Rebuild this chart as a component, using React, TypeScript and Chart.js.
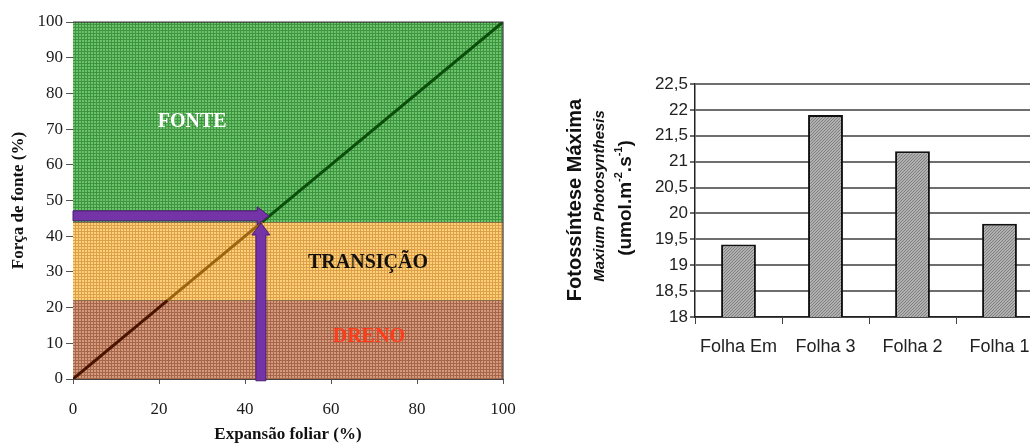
import React, { useEffect, useRef } from "react";
import { Chart, registerables } from "chart.js";

Chart.register(...registerables);

// ---------- Left chart data ----------
const bandNames = ["FONTE", "TRANSIÇÃO", "DRENO"];
const bandTops = [100, 44, 22];
const diagX = [0, 22, 44, 100];
const diagY = [0, 22, 44, 100];
const arrowHX = [0, 45.6];
const arrowHY = 45.7;
const arrowVX = 43.7;
const arrowVY = [-0.5, 43.7];
const xTitleLeft = "Expansão foliar (%)";
const yTitleLeft = "Força de fonte (%)";

// label placement (data coords)
const bandLabelX = [27.7, 68.6, 68.8];
const bandLabelY = [72.0, 32.5, 11.8];

// ---------- Right chart data ----------
const categories = ["Folha Em", "Folha 3", "Folha 2", "Folha 1"];
const photoValues = [19.4, 21.9, 21.2, 19.8];
const yTitleMain = "Fotossíntese Máxima";
const yTitleSub = "Maxium Photosynthesis";

function makeGridPattern(base: string, line: string, size = 3) {
  const c = document.createElement("canvas");
  c.width = size;
  c.height = size;
  const g = c.getContext("2d")!;
  g.fillStyle = base;
  g.fillRect(0, 0, size, size);
  g.fillStyle = line;
  g.fillRect(0, 0, size, 1);
  g.fillRect(0, 0, 1, size);
  return g.createPattern(c, "repeat")!;
}

function makeDotPattern(a: string, b: string) {
  const c = document.createElement("canvas");
  c.width = 3;
  c.height = 3;
  const g = c.getContext("2d")!;
  g.fillStyle = a;
  g.fillRect(0, 0, 3, 3);
  g.fillStyle = b;
  g.fillRect(0, 0, 1, 1);
  g.fillRect(1, 2, 1, 1);
  g.fillRect(2, 1, 1, 1);
  return g.createPattern(c, "repeat")!;
}

const SERIF = "'Liberation Serif', 'Times New Roman', serif";
const SANS = "'Liberation Sans', Arial, sans-serif";

function LeftChart() {
  const ref = useRef<HTMLCanvasElement>(null);
  useEffect(() => {
    const canvas = ref.current!;
    const patterns = [
      makeGridPattern("#6cc46a", "#3e9440"),
      makeGridPattern("#ffcf7a", "#dca048"),
      makeGridPattern("#d59a7e", "#a5664a"),
    ];
    const overlay = {
      id: "overlay",
      afterDatasetsDraw(chart: any) {
        const { ctx, scales, chartArea } = chart;
        const xs = scales.x;
        const ys = scales.y;
        ctx.save();
        // plot border top & right
        ctx.strokeStyle = "#3a3a3a";
        ctx.lineWidth = 1.2;
        ctx.beginPath();
        ctx.moveTo(chartArea.left, chartArea.top);
        ctx.lineTo(chartArea.right, chartArea.top);
        ctx.lineTo(chartArea.right, chartArea.bottom);
        ctx.stroke();

        // band labels
        const colors = ["#ffffff", "#111111", "#ff3b1a"];
        ctx.font = `bold 20px ${SERIF}`;
        ctx.textAlign = "center";
        ctx.textBaseline = "middle";
        bandNames.forEach((n, i) => {
          ctx.fillStyle = colors[i];
          ctx.fillText(n, xs.getPixelForValue(bandLabelX[i]), ys.getPixelForValue(bandLabelY[i]));
        });

        // arrows
        ctx.fillStyle = "#7433a6";
        ctx.strokeStyle = "#4b1d72";
        ctx.lineWidth = 1;
        const half = 5;
        const headLen = 12;
        const headHalf = 9;
        // horizontal
        const hx0 = xs.getPixelForValue(arrowHX[0]);
        const hx1 = xs.getPixelForValue(arrowHX[1]);
        const hy = ys.getPixelForValue(arrowHY);
        ctx.beginPath();
        ctx.moveTo(hx0, hy - half);
        ctx.lineTo(hx1 - headLen, hy - half);
        ctx.lineTo(hx1 - headLen, hy - headHalf);
        ctx.lineTo(hx1, hy);
        ctx.lineTo(hx1 - headLen, hy + headHalf);
        ctx.lineTo(hx1 - headLen, hy + half);
        ctx.lineTo(hx0, hy + half);
        ctx.closePath();
        ctx.fill();
        ctx.stroke();
        // vertical
        const vx = xs.getPixelForValue(arrowVX);
        const vy0 = ys.getPixelForValue(arrowVY[0]);
        const vy1 = ys.getPixelForValue(arrowVY[1]);
        ctx.beginPath();
        ctx.moveTo(vx - half, vy0);
        ctx.lineTo(vx - half, vy1 + headLen);
        ctx.lineTo(vx - headHalf, vy1 + headLen);
        ctx.lineTo(vx, vy1);
        ctx.lineTo(vx + headHalf, vy1 + headLen);
        ctx.lineTo(vx + half, vy1 + headLen);
        ctx.lineTo(vx + half, vy0);
        ctx.closePath();
        ctx.fill();
        ctx.stroke();
        ctx.restore();
      },
    };

    const chart = new Chart(canvas, {
      type: "line",
      data: {
        datasets: [
          {
            label: "diag",
            data: diagX.map((x, i) => ({ x, y: diagY[i] })),
            borderWidth: 3,
            pointRadius: 0,
            fill: false,
            borderColor: "#0b4d0b",
            segment: {
              borderColor: (c: any) =>
                c.p0.parsed.y < 22 ? "#4a1500" : c.p0.parsed.y < 44 ? "#9c6410" : "#0b4d0b",
            },
          } as any,
          ...bandTops.map((top, i) => ({
            label: bandNames[i],
            data: [
              { x: 0, y: top },
              { x: 100, y: top },
            ],
            borderColor: "#3a3a3a",
            borderWidth: 1.2,
            pointRadius: 0,
            backgroundColor: patterns[i],
            fill: i < bandTops.length - 1 ? "+1" : "origin",
          })),
        ],
      },
      options: {
        animation: false,
        responsive: false,
        layout: { padding: { top: 22, right: 17, left: 0, bottom: 0 } },
        plugins: { legend: { display: false }, tooltip: { enabled: false } },
        scales: {
          x: {
            type: "linear",
            min: 0,
            max: 100,
            ticks: { stepSize: 20, font: { family: SERIF, size: 17 }, color: "#1a1a1a", padding: 15 },
            grid: { drawOnChartArea: false, tickLength: 5, color: "#555" },
            border: { color: "#444" },
            title: {
              display: true,
              text: xTitleLeft,
              font: { family: SERIF, size: 17, weight: "bold" },
              color: "#111",
              padding: { top: 0, bottom: 0 },
            },
            afterFit: (s: any) => {
              s.height = 66;
              s.paddingLeft = 0;
              s.paddingRight = 0;
            },
          },
          y: {
            type: "linear",
            min: 0,
            max: 100,
            ticks: { stepSize: 10, font: { family: SERIF, size: 17 }, color: "#1a1a1a", padding: 3 },
            grid: { drawOnChartArea: false, tickLength: 7, color: "#555" },
            border: { color: "#444" },
            title: {
              display: true,
              text: yTitleLeft,
              font: { family: SERIF, size: 17, weight: "bold" },
              color: "#111",
              padding: { top: 8, bottom: 0 },
            },
            afterFit: (s: any) => {
              s.width = 73;
            },
          },
        },
      } as any,
      plugins: [overlay],
    });
    return () => chart.destroy();
  }, []);
  return <canvas ref={ref} width={520} height={445} style={{ width: 520, height: 445 }} />;
}

function RightChart() {
  const ref = useRef<HTMLCanvasElement>(null);
  useEffect(() => {
    const canvas = ref.current!;
    const pattern = makeDotPattern("#b0b0b0", "#808080");
    const titles = {
      id: "titles",
      afterDraw(chart: any) {
        const { ctx } = chart;
        ctx.save();
        ctx.fillStyle = "#111";
        ctx.textAlign = "center";
        ctx.textBaseline = "middle";
        // main title
        ctx.save();
        ctx.translate(35, 200);
        ctx.rotate(-Math.PI / 2);
        ctx.font = `bold 20px ${SANS}`;
        ctx.fillText(yTitleMain, 0, 0);
        ctx.restore();
        // sub title
        ctx.save();
        ctx.translate(60, 196);
        ctx.rotate(-Math.PI / 2);
        ctx.font = `italic bold 15px ${SANS}`;
        ctx.fillText(yTitleSub, 0, 0);
        ctx.restore();
        // units with superscripts
        const parts = [
          { t: "(umol.m", sup: false },
          { t: "-2", sup: true },
          { t: ".s", sup: false },
          { t: "-1", sup: true },
          { t: ")", sup: false },
        ];
        const mainFont = `bold 19px ${SANS}`;
        const supFont = `bold 11px ${SANS}`;
        let total = 0;
        const widths = parts.map((p) => {
          ctx.font = p.sup ? supFont : mainFont;
          const w = ctx.measureText(p.t).width;
          total += w;
          return w;
        });
        ctx.save();
        ctx.translate(86, 198);
        ctx.rotate(-Math.PI / 2);
        ctx.textAlign = "left";
        let cx = -total / 2;
        parts.forEach((p, i) => {
          ctx.font = p.sup ? supFont : mainFont;
          ctx.fillText(p.t, cx, p.sup ? -7 : 0);
          cx += widths[i];
        });
        ctx.restore();
        ctx.restore();
      },
    };
    const chart = new Chart(canvas, {
      type: "bar",
      data: {
        labels: categories,
        datasets: [
          {
            label: "Fotossíntese Máxima",
            data: photoValues,
            backgroundColor: pattern,
            borderColor: "#111",
            borderWidth: 2,
            borderSkipped: false,
            barPercentage: 0.4,
            categoryPercentage: 1,
          },
        ],
      },
      options: {
        animation: false,
        responsive: false,
        layout: { padding: { top: 84, right: 17, left: 0, bottom: 0 } },
        plugins: { legend: { display: false }, tooltip: { enabled: false } },
        scales: {
          x: {
            grid: { drawOnChartArea: false, tickLength: 7, color: "#444", offset: true },
            border: { color: "#222", width: 1.5 },
            ticks: { font: { family: SANS, size: 18 }, color: "#222", padding: 12 },
            afterFit: (s: any) => {
              s.height = 128;
            },
          },
          y: {
            min: 18,
            max: 22.5,
            ticks: {
              stepSize: 0.5,
              font: { family: SANS, size: 17 },
              color: "#222",
              padding: 2,
              callback: (v: any) => String(v).replace(".", ","),
            },
            grid: { color: "#6e6e6e", lineWidth: 2, tickLength: 5 },
            border: { color: "#222", width: 1.5 },
            afterFit: (s: any) => {
              s.width = 155;
            },
          },
        },
      } as any,
      plugins: [titles],
    });
    return () => chart.destroy();
  }, []);
  return <canvas ref={ref} width={520} height={445} style={{ width: 520, height: 445 }} />;
}

export default function App() {
  return (
    <div
      style={{
        position: "fixed",
        left: 0,
        top: 0,
        width: 1030,
        height: 445,
        overflow: "hidden",
        background: "#fff",
      }}
    >
      <div style={{ position: "absolute", left: 0, top: 0 }}>
        <LeftChart />
      </div>
      <div style={{ position: "absolute", left: 540, top: 0 }}>
        <RightChart />
      </div>
    </div>
  );
}
